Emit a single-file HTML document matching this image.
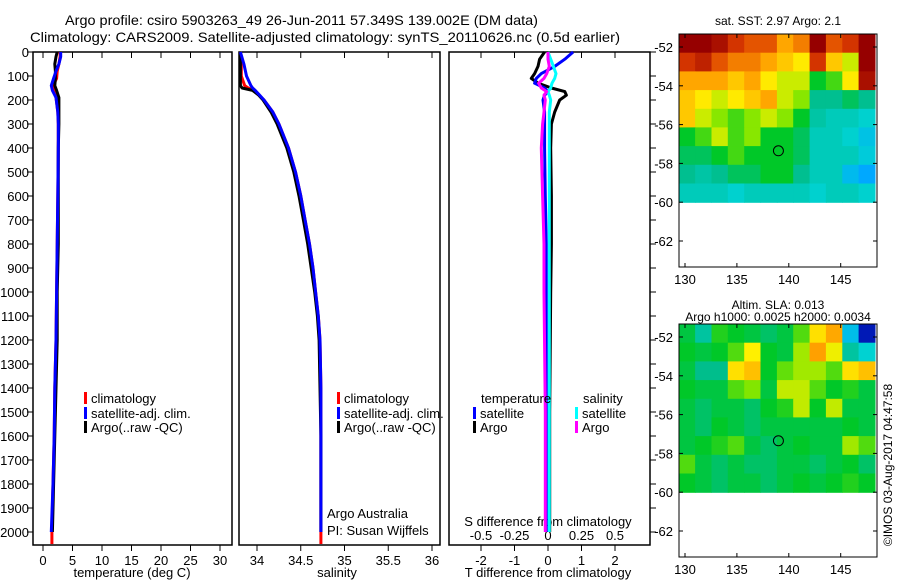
<!DOCTYPE html>
<html><head><meta charset="utf-8"><style>
body{margin:0;background:#fff}
svg{display:block;font-family:"Liberation Sans",sans-serif}
</style></head><body>
<svg id="c" width="900" height="580" xmlns="http://www.w3.org/2000/svg">
<text x="65" y="25" font-size="14" textLength="473" lengthAdjust="spacingAndGlyphs">Argo profile: csiro 5903263_49 26-Jun-2011 57.349S 139.002E (DM data)</text>
<text x="30" y="42" font-size="14" textLength="590" lengthAdjust="spacingAndGlyphs">Climatology: CARS2009. Satellite-adjusted climatology: synTS_20110626.nc (0.5d earlier)</text>
<g id="g"></g>
</svg>
<script>
// ---- data ----
const depthT=[0,20,50,80,110,140,160,190,250,300,400,600,800,1000,1200,1400,1600,1800,2000,2050];
const climTemp=[2.9,2.9,2.7,2.4,2.3,1.7,1.8,2.2,2.5,2.6,2.6,2.5,2.4,2.3,2.2,2.0,1.9,1.7,1.5,1.5];
const satTemp=[3.0,3.0,2.7,2.2,1.8,1.4,1.6,2.2,2.5,2.6,2.6,2.5,2.4,2.3,2.2,2.0,1.9,1.7,1.4];
const argoTemp=[2.4,2.2,2.0,2.1,2.1,2.0,2.3,2.7,2.7,2.7,2.6,2.6,2.6,2.4,2.4,2.2,2.0,1.8,1.6];
const depthS=[0,50,100,140,150,160,180,200,250,300,400,500,600,700,800,900,1000,1100,1200,1400,1600,1800,2000,2050];
const argoSal=[33.81,33.81,33.81,33.81,33.83,33.95,34.02,34.07,34.16,34.23,34.34,34.42,34.48,34.53,34.58,34.62,34.66,34.69,34.71,34.72,34.73,34.73,34.73];
const satSal=[33.81,33.85,33.88,33.93,33.95,33.98,34.03,34.08,34.18,34.25,34.36,34.44,34.50,34.55,34.60,34.64,34.67,34.70,34.72,34.73,34.73,34.73,34.73];
const climSal=[33.81,33.82,33.82,33.86,33.90,33.96,34.02,34.08,34.18,34.25,34.36,34.44,34.50,34.55,34.60,34.64,34.67,34.70,34.72,34.73,34.73,34.73,34.73,34.73];
const depthD=[0,30,60,90,110,130,150,165,180,200,250,300,400,600,800,1000,1500,2000];
const satTdiff=[0.75,0.5,0.2,-0.2,-0.35,-0.4,-0.1,0.0,-0.1,-0.15,-0.1,-0.1,-0.1,-0.08,-0.05,-0.05,-0.05,-0.05];
const argoTdiff=[-0.1,-0.25,-0.3,-0.4,-0.5,-0.3,0.1,0.5,0.55,0.35,0.2,0.1,0.08,0.1,0.1,0.08,0.05,0.05];
const satSdiff=[0.0,0.02,0.04,0.06,0.05,0.03,0.02,0.0,0.01,0.02,0.01,0.01,0.01,0.01,0.01,0.01,0.01,0.01];
const argoSdiff=[0.0,0.0,0.01,-0.01,-0.03,-0.07,-0.05,-0.01,-0.03,-0.02,-0.03,-0.04,-0.05,-0.04,-0.03,-0.03,-0.02,-0.02];
const depthTicks=[0,100,200,300,400,500,600,700,800,900,1000,1100,1200,1300,1400,1500,1600,1700,1800,1900,2000];
const tempTicks=[0,5,10,15,20,25,30];
const salTicks=[34,34.5,35,35.5,36];
const salTickLabels=["34","34.5","35","35.5","36"];
const tdTicks=[-2,-1,0,1,2];
const sdTicks=[-0.5,-0.25,0,0.25,0.5];
const latTicks=[-52,-54,-56,-58,-60,-62];
const lonTicks=[130,135,140,145];
const sstGrid=[
[4.8,4.8,4.6,4.2,4.0,4.0,3.6,3.8,4.8,4.0,4.2,4.8],
[4.2,4.4,4.0,3.8,3.8,3.6,3.4,3.2,4.2,3.4,3.0,4.8],
[3.6,3.6,3.6,3.4,3.6,3.2,3.0,3.0,2.4,2.6,3.2,4.6],
[3.4,3.2,3.0,3.2,3.4,3.6,3.0,2.8,2.0,2.0,2.2,2.0],
[3.4,3.0,2.8,2.6,2.8,3.0,2.8,2.4,1.9,1.8,1.8,1.7],
[2.4,2.6,3.0,2.6,2.8,2.4,2.4,2.2,1.8,1.8,1.7,1.5],
[2.2,2.2,2.4,2.6,2.4,2.4,2.4,2.2,1.8,1.8,1.8,1.6],
[2.0,1.9,2.0,2.2,2.2,2.4,2.4,2.0,1.8,1.8,1.4,1.2],
[1.8,1.8,1.8,1.7,1.8,1.8,1.8,1.8,1.7,1.8,1.8,1.7]];
const slaGrid=[
[0.48,0.40,0.52,0.50,0.48,0.45,0.48,0.55,0.68,0.75,0.30,0.05],
[0.50,0.48,0.50,0.55,0.66,0.50,0.48,0.60,0.76,0.65,0.40,0.35],
[0.48,0.42,0.42,0.68,0.72,0.50,0.56,0.60,0.60,0.55,0.68,0.72],
[0.50,0.48,0.48,0.55,0.58,0.48,0.62,0.62,0.55,0.50,0.52,0.48],
[0.48,0.45,0.48,0.48,0.45,0.50,0.52,0.62,0.50,0.62,0.48,0.48],
[0.48,0.45,0.50,0.48,0.45,0.48,0.48,0.48,0.48,0.48,0.50,0.48],
[0.48,0.50,0.52,0.55,0.48,0.45,0.48,0.50,0.48,0.48,0.60,0.55],
[0.55,0.48,0.45,0.48,0.45,0.45,0.48,0.48,0.45,0.48,0.50,0.45],
[0.50,0.48,0.45,0.48,0.48,0.45,0.48,0.50,0.48,0.50,0.52,0.50]];
const floatLon=139.0, floatLat=-57.35;

// ---- helpers ----
const NS="http://www.w3.org/2000/svg", G=document.getElementById('g');
function mk(t,a,p){const e=document.createElementNS(NS,t);for(const k in a)e.setAttribute(k,a[k]);(p||G).appendChild(e);return e;}
const yD=d=>52+d*0.24;
const xT=t=>43+t*5.9;
const xS=s=>257+(s-34)*87.5;
const xTD=v=>548+v*33.5;
const xSD=v=>548+v*134;
function line(xs,ys,xf,yf,col,name){
  let p=ys.map((v,i)=>(i?'L':'M')+xf(xs[i]).toFixed(1)+','+yf(v).toFixed(1)).join('');
  const e=mk('path',{d:p,fill:'none',stroke:col,'stroke-width':3,'stroke-linejoin':'round'});
  
  
}
function panel(x0,x1,name){
  const r=mk('rect',{x:x0,y:52,width:x1-x0,height:493,fill:'none',stroke:'#000','stroke-width':1.5});
  
  
}
function txt(x,y,s,sz,anc,name){const e=mk('text',{x:x,y:y,'font-size':sz,'text-anchor':anc||'start'});e.textContent=s;
  
  return e;}

// panels
panel(33,232,'temperature-panel');panel(239,440,'salinity-panel');panel(449,650,'difference-panel');
depthTicks.forEach(d=>{
  mk('line',{x1:27,x2:33,y1:yD(d),y2:yD(d),stroke:'#000'});
  txt(29,yD(d)+5,String(d),13,'end','y-tick-label');
  mk('line',{x1:650,x2:656,y1:yD(d),y2:yD(d),stroke:'#000'});
});
tempTicks.forEach(t=>{mk('line',{x1:xT(t),x2:xT(t),y1:52,y2:58,stroke:'#000'});mk('line',{x1:xT(t),x2:xT(t),y1:545,y2:551,stroke:'#000'});txt(xT(t),565,String(t),13,'middle','temp-tick-label');});
salTicks.forEach((s,i)=>{mk('line',{x1:xS(s),x2:xS(s),y1:52,y2:58,stroke:'#000'});mk('line',{x1:xS(s),x2:xS(s),y1:545,y2:551,stroke:'#000'});txt(xS(s),565,salTickLabels[i],13,'middle','sal-tick-label');});
tdTicks.forEach(t=>{mk('line',{x1:xTD(t),x2:xTD(t),y1:52,y2:58,stroke:'#000'});mk('line',{x1:xTD(t),x2:xTD(t),y1:545,y2:551,stroke:'#000'});txt(xTD(t),565,String(t),13,'middle','tdiff-tick-label');});
sdTicks.forEach(t=>{txt(xSD(t),540,String(t),13,'middle','sdiff-tick-label');});
txt(132,577,'temperature (deg C)',13,'middle','x-axis-title-temp');
txt(337,577,'salinity',13,'middle','x-axis-title-sal');
txt(548,577,'T difference from climatology',13,'middle','x-axis-title-tdiff');
txt(548,526,'S difference from climatology',13,'middle','x-axis-title-sdiff');
txt(327,518,'Argo Australia',13,'start','credit-line-1');
txt(327,535,'PI: Susan Wijffels',13,'start','credit-line-2');

// series
line(climTemp,depthT.slice(0,climTemp.length),xT,yD,'#f00','clim-temp-line');
line(argoTemp,depthT.slice(0,argoTemp.length),xT,yD,'#000','argo-temp-line');
line(satTemp,depthT.slice(0,satTemp.length),xT,yD,'#00f','sat-temp-line');
line(climSal,depthS.slice(0,climSal.length),xS,yD,'#f00','clim-sal-line');
line(argoSal,depthS.slice(0,argoSal.length),xS,yD,'#000','argo-sal-line');
line(satSal,depthS.slice(0,satSal.length),xS,yD,'#00f','sat-sal-line');
line(argoTdiff,depthD,xTD,yD,'#000','argo-tdiff-line');
line(satTdiff,depthD,xTD,yD,'#00f','sat-tdiff-line');
line(satSdiff,depthD,xSD,yD,'#0ff','sat-sdiff-line');
line(argoSdiff,depthD,xSD,yD,'#f0f','argo-sdiff-line');

// legends
function leg(x,y,col,s,name){mk('rect',{x:x,y:y-11,width:3,height:12,fill:col});txt(x+7,y,s,13,'start',name);}
[[84,'legend-temp'],[337,'legend-sal']].forEach(([lx,n])=>{
  leg(lx,403,'#f00','climatology',n+'-climatology');leg(lx,418,'#00f','satellite-adj. clim.',n+'-satellite');leg(lx,432,'#000','Argo(..raw -QC)',n+'-argo');});
txt(481,403,'temperature',13,'start','legend-temperature-header');
txt(583,403,'salinity',13,'start','legend-salinity-header');
leg(473,418,'#00f','satellite','legend-tdiff-satellite');leg(473,432,'#000','Argo','legend-tdiff-argo');
leg(575,418,'#0ff','satellite','legend-sdiff-satellite');leg(575,432,'#f0f','Argo','legend-sdiff-argo');

// colormap (approximate reference palette)
const cmStops=[[0,[0,0,130]],[0.12,[0,60,255]],[0.25,[0,170,255]],[0.35,[0,210,210]],[0.42,[0,190,140]],[0.5,[0,200,40]],[0.58,[130,230,0]],[0.66,[255,240,0]],[0.76,[255,160,0]],[0.86,[220,60,0]],[1,[150,0,0]]];
function cmap(v){v=Math.max(0,Math.min(1,v));
  for(let i=1;i<cmStops.length;i++){if(v<=cmStops[i][0]){const [a,ca]=cmStops[i-1],[b,cb]=cmStops[i];const t=(v-a)/(b-a);
    return 'rgb('+ca.map((c,k)=>Math.round(c+(cb[k]-c)*t)).join(',')+')';}}
  return 'rgb(150,0,0)';}
function map(top,grid,norm,title1,title2,name){
  const L=679,R=877,B=top+233;
  const yL=lat=>top+13+(-52-lat)*19.4, xL=lon=>685+(lon-130)*10.38;
  const lon0=129.4,lon1=148.3,lat0=-51.33,lat1=-60;
  const nc=grid[0].length,nr=grid.length,cw=(lon1-lon0)/nc,rh=(lat0-lat1)/nr;
  grid.forEach((row,i)=>row.forEach((v,j)=>{
    const x=xL(lon0+j*cw),y=yL(lat0-i*rh);
    const c=mk('rect',{x:x.toFixed(1),y:y.toFixed(1),width:(xL(lon0+(j+1)*cw)-x+0.6).toFixed(1),height:(yL(lat0-(i+1)*rh)-y+0.6).toFixed(1),fill:cmap(norm(v))});
    
    
  }));
  const f=mk('rect',{x:L,y:top,width:R-L,height:B-top,fill:'none',stroke:'#000'});
  
  
  latTicks.forEach(la=>{mk('line',{x1:L,x2:L+4,y1:yL(la),y2:yL(la),stroke:'#000'});mk('line',{x1:R-4,x2:R,y1:yL(la),y2:yL(la),stroke:'#000'});txt(L-6,yL(la)+5,String(la),13,'end','lat-tick-label');});
  lonTicks.forEach(lo=>{mk('line',{x1:xL(lo),x2:xL(lo),y1:top,y2:top+4,stroke:'#000'});mk('line',{x1:xL(lo),x2:xL(lo),y1:B-4,y2:B,stroke:'#000'});txt(xL(lo),B+17,String(lo),13,'middle','lon-tick-label');});
  const m=mk('circle',{cx:xL(floatLon),cy:yL(floatLat),r:5,fill:'none',stroke:'#000'});
  
  
  if(title2){txt(778,top-15,title1,12,'middle','map-title');txt(778,top-3,title2,12,'middle','map-subtitle');}
  else txt(778,top-9,title1,12,'middle','map-title');
}
map(34,sstGrid,v=>(v-2.4)*0.21+0.5,'sat. SST: 2.97 Argo: 2.1',null,'sst-map');
map(324,slaGrid,v=>v,'Altim. SLA: 0.013','Argo h1000: 0.0025 h2000: 0.0034','sla-map');
const st=txt(0,0,'©IMOS 03-Aug-2017 04:47:58',12,'middle','imos-stamp');
st.setAttribute('transform','translate(892,465) rotate(-90)');
</script>
</body></html>
